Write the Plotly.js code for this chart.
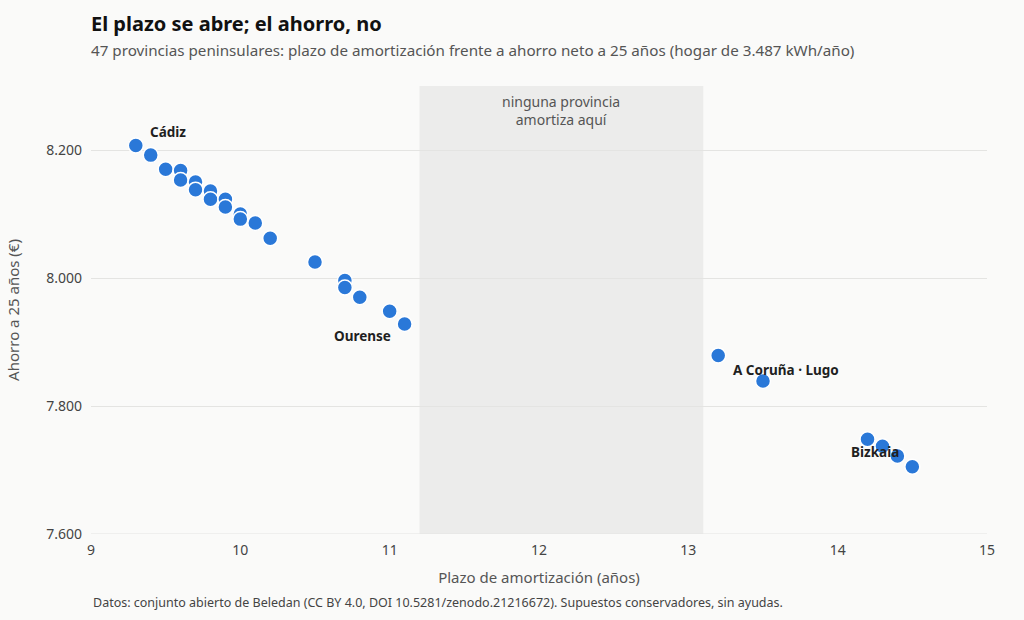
<!DOCTYPE html>
<html>
<head>
<meta charset="utf-8">
<script src="https://cdn.plot.ly/plotly-3.0.1.min.js"></script>
<style>html,body{margin:0;padding:0;background:#fafaf9;}#chart{width:1024px;height:620px;}</style>
</head>
<body>
<div id="chart"></div>
<script>
// Plazo de amortización (años) y ahorro neto a 25 años (€) por provincia (puntos visibles)
const plazo = [9.3, 9.4, 9.5, 9.6, 9.6, 9.7, 9.7, 9.8, 9.8, 9.9, 9.9, 10.0, 10.0, 10.1, 10.2,
               10.5, 10.7, 10.7, 10.8, 11.0, 11.1,
               13.2, 13.5, 14.2, 14.3, 14.4, 14.5];
const ahorro = [8207, 8192, 8170, 8168, 8153, 8150, 8138, 8136, 8123, 8123, 8111, 8100, 8092, 8086, 8062,
                8025, 7996, 7985, 7970, 7948, 7928,
                7879, 7839, 7748, 7737, 7722, 7705];
const xTicks = [9, 10, 11, 12, 13, 14, 15];
const yTicks = [7600, 7800, 8000, 8200];
const yTickLabels = ["7.600", "7.800", "8.000", "8.200"];
const bandaVacia = [11.2, 13.1];
const etiquetas = [
  {name: "Cádiz", x: 9.3, y: 8207},
  {name: "Ourense", x: 11.1, y: 7928},
  {name: "A Coruña · Lugo", x: 13.5, y: 7839},
  {name: "Bizkaia", x: 14.3, y: 7737}
];
const etiquetaShift = [[32, 14], [-42, -12], [23, 11], [-7, -6]];

const FONT = "'Noto Sans', 'Open Sans', sans-serif";

const trace = {
  type: "scatter", mode: "markers", x: plazo, y: ahorro,
  marker: {size: 15, color: "#2a78d8", line: {color: "#ffffff", width: 1.5}},
  hoverinfo: "x+y", showlegend: false
};

const annotations = etiquetas.map((e, i) => ({
  x: e.x, y: e.y, xref: "x", yref: "y", text: "<b>" + e.name + "</b>",
  showarrow: false, xshift: etiquetaShift[i][0], yshift: etiquetaShift[i][1],
  font: {family: FONT, size: 13.5, color: "#1f1f1f"}
}));
annotations.push({
  x: (bandaVacia[0] + bandaVacia[1]) / 2, y: 1, xref: "x", yref: "paper", yanchor: "top",
  yshift: -4, showarrow: false, text: "ninguna provincia<br>amortiza aquí", align: "center",
  font: {family: FONT, size: 14, color: "#555"}
});
annotations.push({
  x: 0, xref: "paper", xanchor: "left", y: 0, yref: "paper", yanchor: "middle", yshift: -68,
  showarrow: false, text: "Datos: conjunto abierto de Beledan (CC BY 4.0, DOI 10.5281/zenodo.21216672). Supuestos conservadores, sin ayudas.",
  font: {family: FONT, size: 12.5, color: "#444"}
});
annotations.push({
  x: 0, xref: "paper", xanchor: "left", xshift: -2, y: 1, yref: "paper", yanchor: "middle", yshift: 36,
  showarrow: false, text: "47 provincias peninsulares: plazo de amortización frente a ahorro neto a 25 años (hogar de 3.487 kWh/año)",
  font: {family: FONT, size: 15.2, color: "#555"}
});

const layout = {
  width: 1024, height: 620,
  paper_bgcolor: "#fafaf9", plot_bgcolor: "#fafaf9",
  margin: {l: 91, r: 37, t: 86, b: 86},
  font: {family: FONT, color: "#444"},
  title: {text: "<b>El plazo se abre; el ahorro, no</b>", x: 91/1024, xanchor: "left", y: 1 - 24/620, yanchor: "middle",
          font: {family: FONT, size: 20, color: "#111"}},
  xaxis: {range: [9, 15], tickvals: xTicks, ticktext: xTicks.map(String), showgrid: false, zeroline: false,
          showline: false, ticks: "", ticklabelstandoff: 6, tickfont: {size: 14, color: "#444"},
          title: {text: "Plazo de amortización (años)", font: {size: 15, color: "#555"}, standoff: 14}},
  yaxis: {range: [7600, 8300], tickvals: yTicks, ticktext: yTickLabels, showgrid: true, gridcolor: "#e4e4e2",
          gridwidth: 1, zeroline: false, showline: false, ticks: "", ticklabelstandoff: 8, tickfont: {size: 14, color: "#444"},
          title: {text: "Ahorro a 25 años (€)", font: {size: 15, color: "#555"}, standoff: 22}},
  shapes: [
    {type: "rect", xref: "x", yref: "paper", x0: bandaVacia[0], x1: bandaVacia[1], y0: 0, y1: 1,
     fillcolor: "#ececeb", line: {width: 0}, layer: "below"},
    {type: "line", xref: "paper", yref: "y", x0: 0, x1: 1, y0: 7600, y1: 7600,
     line: {color: "#e4e4e2", width: 1}, layer: "below"}
  ],
  annotations: annotations
};

Plotly.newPlot("chart", [trace], layout, {displayModeBar: false, staticPlot: true});
</script>
</body>
</html>
